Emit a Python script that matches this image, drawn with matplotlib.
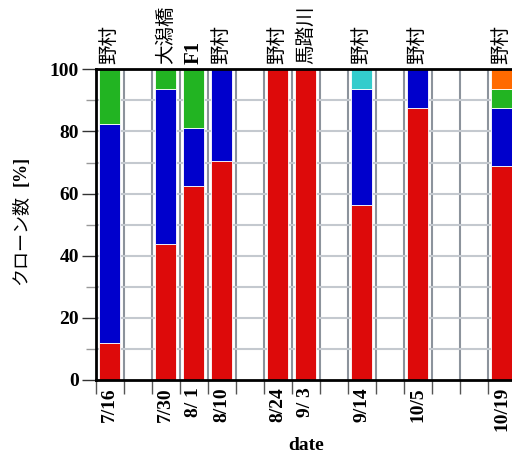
import matplotlib
matplotlib.use("Agg")
import matplotlib.pyplot as plt
import numpy as np

dates = ['7/16', '7/30', '8/ 1', '8/10', '8/24', '9/ 3', '9/14', '10/5', '10/19']
slots = [0, 2, 3, 4, 6, 7, 9, 11, 14]
sites = ['野村', '大潟橋', 'F1', '野村', '野村', '馬踏川', '野村', '野村', '野村']
red = [11.8, 43.75, 62.5, 70.6, 100, 100, 56.25, 87.5, 68.75]
blue = [70.6, 50.0, 18.75, 29.4, 0, 0, 37.5, 12.5, 18.75]
green = [17.6, 6.25, 18.75, 0, 0, 0, 0, 0, 6.25]
cyan = [0, 0, 0, 0, 0, 0, 6.25, 0, 0]
orange = [0, 0, 0, 0, 0, 0, 0, 0, 6.25]
n_slots = 15

series = [(red, '#dd0a0a'), (blue, '#0000cc'), (green, '#22b422'),
          (cyan, '#33cccc'), (orange, '#ff6a00')]

fig = plt.figure(figsize=(5.12, 4.55), dpi=100)
ax = fig.add_axes([95.7 / 512, 1 - 380 / 455, 420 / 512, (380 - 69.3) / 455])

x = np.array(slots) + 0.5
bottom = np.zeros(len(x))
for vals, col in series:
    v = np.array(vals, dtype=float)
    ax.bar(x, v, width=0.74, bottom=bottom, color=col, edgecolor='white',
           linewidth=0.6, zorder=3)
    bottom += v

ax.set_xlim(0, n_slots)
ax.set_ylim(0, 100)

ax.set_xticks(np.arange(0, n_slots + 1))
ax.set_xticklabels([])
ax.set_xticks(x, minor=True)
ax.set_xticklabels(dates, minor=True, rotation=90, fontfamily='Liberation Serif',
                   fontweight='bold', fontsize=14)
ax.tick_params(axis='x', which='major', length=10, width=1, color='#555555', direction='out')
ax.tick_params(axis='x', which='minor', length=0, pad=5)
ax.set_yticks(np.arange(0, 101, 20))
ax.set_yticks(np.arange(10, 100, 20), minor=True)
ax.tick_params(axis='y', which='major', length=10, width=1, color='#333333', pad=2)
ax.tick_params(axis='y', which='minor', length=7, width=1, color='#999999')
for lab in ax.get_yticklabels():
    lab.set_fontfamily('Liberation Serif')
    lab.set_fontweight('bold')
    lab.set_fontsize(14)

for gx in np.arange(1, n_slots):
    ax.axvline(gx, color='#8c939c', linewidth=1.5, zorder=1)
for gy in np.arange(10, 100, 10):
    ax.axhline(gy, color='#c4c9cf', linewidth=1.5, zorder=1)

for s in ['left', 'top', 'bottom']:
    ax.spines[s].set_linewidth(2)
    ax.spines[s].set_zorder(5)
ax.spines['right'].set_visible(False)

for xi, site in zip(x, sites):
    is_latin = site.isascii()
    ax.text(xi, 101.8, site, rotation=90, ha='center', va='bottom',
            fontsize=15 if is_latin else 14,
            fontweight='bold' if is_latin else 'normal',
            family=['Liberation Serif', 'Noto Sans CJK JP'], clip_on=False)

ax.set_xlabel('date', fontfamily='Liberation Serif', fontweight='bold', fontsize=14,
              labelpad=4)
fig.text(20 / 512, 1 - 285 / 455, 'クローン数', rotation=90, ha='center', va='bottom',
         fontsize=13, family=['Noto Sans CJK JP'])
fig.text(21 / 512, 1 - 186 / 455, '[%]', rotation=90, ha='center', va='bottom',
         fontsize=13, fontweight='bold', family=['Liberation Serif'])

fig.savefig('out.png', dpi=100)
